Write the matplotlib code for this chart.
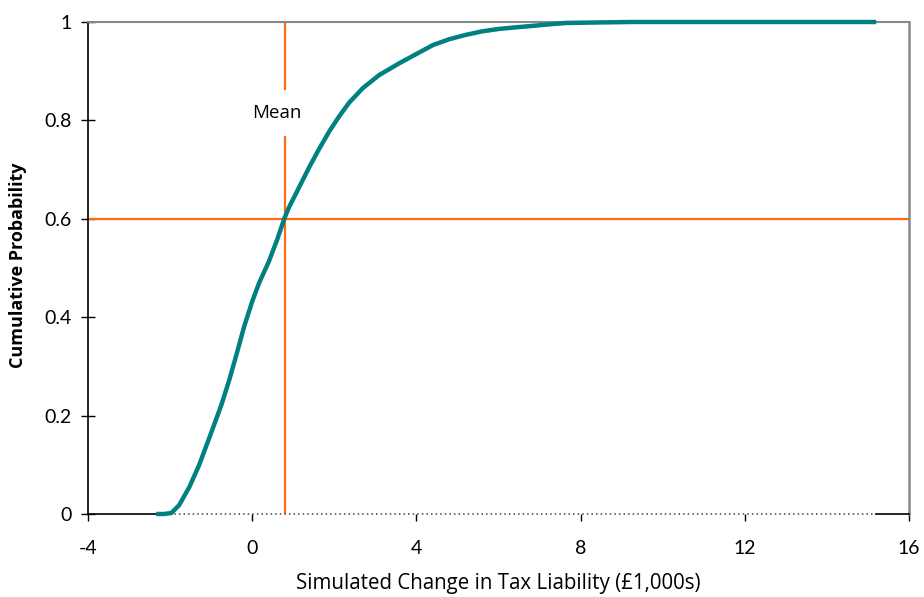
import matplotlib
matplotlib.use("Agg")
import matplotlib.pyplot as plt

x_vals = [-2.34, -2.15, -1.97, -1.78, -1.53, -1.29, -1.0, -0.75, -0.56, -0.38, -0.2,
          0.0, 0.17, 0.4, 0.61, 0.78, 0.9, 1.07, 1.39, 1.63, 1.88, 2.1, 2.36, 2.7,
          3.09, 3.58, 4.0, 4.4, 4.8, 5.21, 5.6, 6.02, 6.4, 6.82, 7.2, 7.64, 8.4, 9.25, 12.0, 15.2]
cum_prob = [0.0, 0.0, 0.002, 0.018, 0.055, 0.10, 0.165, 0.222, 0.272, 0.325, 0.38,
            0.432, 0.47, 0.512, 0.558, 0.600, 0.624, 0.652, 0.705, 0.742, 0.778, 0.806, 0.836, 0.866,
            0.892, 0.916, 0.935, 0.953, 0.965, 0.974, 0.981, 0.986, 0.989, 0.992, 0.995, 0.998, 0.999, 1.0, 1.0, 1.0]
mean_value = 0.8
mean_prob = 0.6
x_ticks = [-4, 0, 4, 8, 12, 16]
y_ticks = [0, 0.2, 0.4, 0.6, 0.8, 1]
y_tick_labels = ["0", "0.2", "0.4", "0.6", "0.8", "1"]

plt.rcParams['font.family'] = ['Lato', 'DejaVu Sans']

fig = plt.figure(figsize=(9.24, 5.97), dpi=100)
ax = fig.add_axes([88/924, 1-514/597, (909-88)/924, (514-22)/597])

ax.set_xlim(-4, 16)
ax.set_ylim(0, 1)

teal = '#008080'
orange = '#FF6A10'

# Mean reference lines
ax.axvline(mean_value, ymin=0, ymax=0.995, color=orange, lw=1.6, zorder=2)
ax.axhline(mean_prob, color=orange, lw=1.6, zorder=2)

# Curve
ax.plot(x_vals, cum_prob, color=teal, lw=3.2, solid_capstyle='butt', zorder=4, clip_on=False)

# Mean label
ax.text(mean_value - 0.2, 0.815, "Mean", fontsize=13.5, ha='center', va='center',
        family=['Open Sans', 'DejaVu Sans'],
        bbox=dict(facecolor='white', edgecolor='none', pad=10), zorder=3)

# Spines
ax.spines['left'].set_color('black')
ax.spines['left'].set_linewidth(1.2)
ax.spines['top'].set_color('#888888')
ax.spines['top'].set_linewidth(1.5)
ax.spines['right'].set_color('#888888')
ax.spines['right'].set_linewidth(1.8)
ax.spines['bottom'].set_visible(False)

# Bottom axis drawn as solid / dotted / solid segments
ax.plot([-4, x_vals[0]], [0, 0], color='black', lw=1.2, clip_on=False, zorder=3)
ax.plot([x_vals[0], x_vals[-1]], [0, 0], color='#444444', lw=1.1, ls=(0, (1, 2)), clip_on=False, zorder=3)
ax.plot([x_vals[-1], 16], [0, 0], color='black', lw=1.2, clip_on=False, zorder=3)

ax.set_xticks(x_ticks)
ax.set_xticklabels([str(t) for t in x_ticks])
ax.set_yticks(y_ticks)
ax.set_yticklabels(y_tick_labels)
ax.tick_params(axis='y', direction='inout', length=10, width=1.0, pad=7, labelsize=14, colors='black')
ax.tick_params(axis='x', direction='out', length=5, width=1.0, pad=14, labelsize=14, colors='black')
for t in ax.xaxis.get_major_ticks():
    t.tick1line.set_color('#444444')

ax.set_xlabel("Simulated Change in Tax Liability (£1,000s)", fontsize=14.8,
              family=['Open Sans', 'DejaVu Sans'])
ax.xaxis.set_label_coords(0.5, -(573 - 514) / 492)
ax.set_ylabel("Cumulative Probability", fontsize=13, fontweight='bold',
              family=['Open Sans', 'DejaVu Sans'], va='center')
ax.yaxis.set_label_coords((18 - 88) / 821, 0.506)

fig.savefig("out.png", dpi=100, facecolor='white')
